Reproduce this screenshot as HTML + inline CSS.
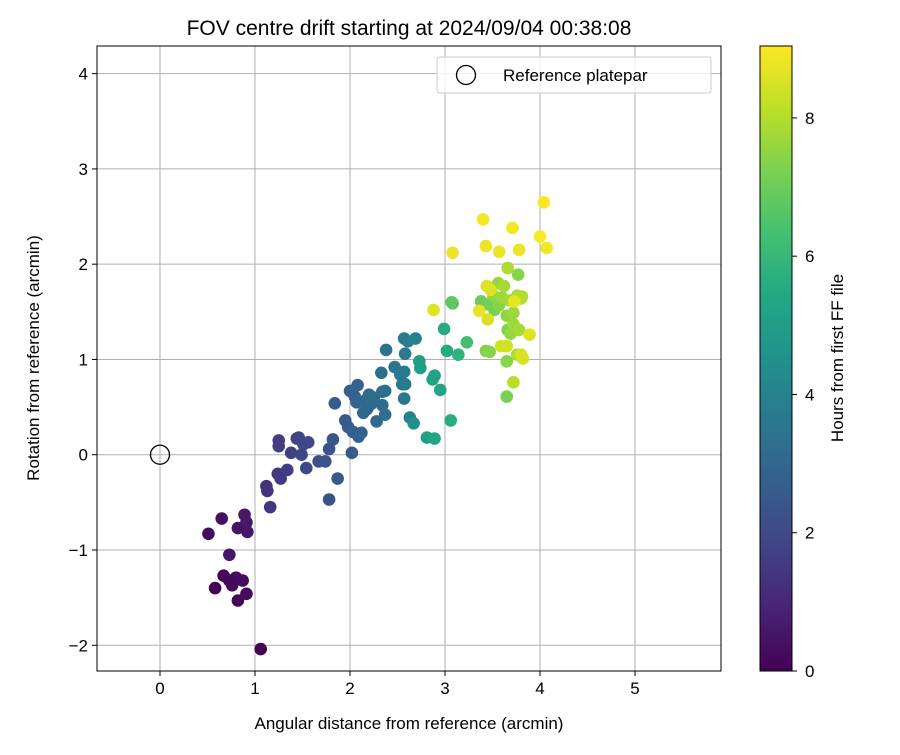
<!DOCTYPE html>
<html><head><meta charset="utf-8"><style>
body{margin:0;background:#fff;font-family:"Liberation Sans","DejaVu Sans",sans-serif;}
svg text{font-family:"Liberation Sans","DejaVu Sans",sans-serif;fill:#000;}
</style></head><body>
<svg id="c" width="900" height="750" xmlns="http://www.w3.org/2000/svg">
<defs><linearGradient id="vir" x1="0" y1="1" x2="0" y2="0">
<stop offset="0" stop-color="#440154"/><stop offset="0.1" stop-color="#482475"/><stop offset="0.2" stop-color="#414487"/><stop offset="0.3" stop-color="#355f8d"/><stop offset="0.4" stop-color="#2a788e"/><stop offset="0.5" stop-color="#21918c"/><stop offset="0.6" stop-color="#22a884"/><stop offset="0.7" stop-color="#44bf70"/><stop offset="0.8" stop-color="#7ad151"/><stop offset="0.9" stop-color="#bddf26"/><stop offset="1" stop-color="#fde725"/>
</linearGradient></defs>
<text x="409" y="35" font-size="21" text-anchor="middle">FOV centre drift starting at 2024/09/04 00:38:08</text>
<g id="grid"></g><g id="pts"></g><g id="axes"></g>
<rect x="760" y="46" width="32" height="625" fill="url(#vir)" stroke="#000" stroke-width="1"/>
<g id="cbt"></g>
<text transform="translate(843,358) rotate(-90)" font-size="17" text-anchor="middle">Hours from first FF file</text>
<text x="409" y="729" font-size="17" text-anchor="middle">Angular distance from reference (arcmin)</text>
<text transform="translate(39,358) rotate(-90)" font-size="17" text-anchor="middle">Rotation from reference (arcmin)</text>
<g>
<rect x="437" y="57" width="274" height="36" rx="3" fill="#fff" fill-opacity="0.8" stroke="#ccc"/>
<circle cx="466" cy="75" r="9.5" fill="none" stroke="#000" stroke-width="1.3"/>
<text x="503" y="81" font-size="17">Reference platepar</text>
</g>
</svg>
<script>
const xs=[0.51,0.65,0.73,0.58,0.67,0.76,0.80,0.87,0.82,0.91,0.82,0.89,0.91,0.92,1.06,0.73,
1.12,1.13,1.16,1.25,1.25,1.24,1.27,1.34,1.38,1.44,1.46,1.49,1.51,1.56,1.54,1.67,1.74,1.78,1.78,1.82,1.87,1.84,1.95,2.0,2.02,1.98,2.03,
2.05,2.08,2.07,2.09,2.12,2.14,2.16,2.18,2.20,2.22,2.25,2.28,2.33,2.34,2.34,2.37,2.38,2.37,2.47,2.53,2.55,2.57,2.58,2.57,2.58,2.57,2.61,2.63,2.67,2.69,
2.73,2.74,2.81,2.87,2.89,2.89,2.95,2.99,3.02,3.06,3.08,3.14,3.23,
3.07,3.38,3.43,3.47,3.45,3.52,3.51,3.56,3.57,3.60,3.62,3.65,3.65,3.66,3.66,3.65,3.68,3.69,3.72,3.72,3.76,3.77,3.72,3.76,3.78,3.80,3.81,
2.88,3.08,3.40,3.43,3.44,3.45,3.48,3.57,3.59,3.65,3.71,3.78,3.80,3.82,3.89,4.0,4.04,4.07,3.36,3.73];
const ys=[-0.83,-0.67,-1.05,-1.40,-1.27,-1.37,-1.29,-1.32,-1.53,-1.46,-0.77,-0.63,-0.71,-0.81,-2.04,-1.32,
-0.33,-0.38,-0.55,0.15,0.09,-0.20,-0.25,-0.16,0.02,0.17,0.18,0,0.11,0.13,-0.14,-0.07,-0.07,0.06,-0.47,0.16,-0.25,0.54,0.36,0.67,0.02,0.29,0.24,
0.61,0.73,0.55,0.19,0.23,0.44,0.57,0.48,0.63,0.53,0.60,0.35,0.86,0.66,0.52,0.42,1.1,0.67,0.92,0.84,0.74,1.22,1.06,0.59,0.74,0.87,1.19,0.39,0.33,1.22,
0.98,0.91,0.18,0.79,0.83,0.17,0.68,1.32,1.09,0.36,1.59,1.05,1.18,
1.60,1.61,1.09,1.08,1.58,1.52,1.67,1.80,1.57,1.65,1.77,0.61,1.46,1.96,1.31,0.98,1.62,1.27,1.49,1.37,1.05,1.89,0.76,1.67,1.31,1.64,1.66,
1.52,2.12,2.47,2.19,1.77,1.42,1.73,2.13,1.14,1.14,2.38,2.15,1.05,1.01,1.26,2.29,2.65,2.17,1.51,1.61];
const hours=[0.3,0.35,0.6,0.1,0.15,0.2,0.25,0.3,0.2,0.25,0.5,0.6,0.6,0.55,0.0,0.2,
1.3,1.3,1.4,1.6,1.6,1.5,1.5,1.6,1.7,1.8,1.8,1.9,1.9,2.0,2.0,2.2,2.3,2.3,2.3,2.4,2.5,2.6,2.5,2.7,2.6,2.6,2.7,
2.8,2.8,2.9,2.8,2.9,3.0,3.0,3.0,3.1,3.1,3.2,3.1,3.3,3.3,3.2,3.3,3.4,3.3,3.5,3.6,3.6,3.7,3.7,3.6,3.7,3.7,3.8,3.9,4.5,3.9,
5.0,5.0,5.1,5.2,5.2,5.3,5.3,5.5,5.5,5.6,6.5,5.8,6.3,
6.8,7.0,7.3,7.4,7.1,7.2,7.5,7.6,7.4,7.7,7.8,7.2,7.5,7.9,7.3,7.4,7.8,7.6,7.7,7.7,7.9,7.4,8.1,7.9,7.8,8.0,8.0,
8.6,8.8,8.9,8.8,8.6,8.5,8.6,8.8,8.4,8.4,8.9,8.8,8.5,8.5,8.6,9.0,9.0,8.9,8.7,8.7];
const xTicks=[0,1,2,3,4,5], yTicks=[-2,-1,0,1,2,3,4], cTicks=[0,2,4,6,8];
const X0=97,X1=721,Y0=46,Y1=671,xmin=-0.663,xmax=5.905,ymin=-2.27,ymax=4.29,hmax=9.04;
const sx=v=>X0+(v-xmin)/(xmax-xmin)*(X1-X0), sy=v=>Y1-(v-ymin)/(ymax-ymin)*(Y1-Y0), sc=v=>671-v/hmax*625;
const stops=["#440154","#482475","#414487","#355f8d","#2a788e","#21918c","#22a884","#44bf70","#7ad151","#bddf26","#fde725"];
function vir(t){t=Math.max(0,Math.min(1,t))*10;const i=Math.min(9,Math.floor(t)),f=t-i;
const a=stops[i],b=stops[i+1];const c=k=>Math.round(parseInt(a.substr(k,2),16)*(1-f)+parseInt(b.substr(k,2),16)*f);
return `rgb(${c(1)},${c(3)},${c(5)})`;}
const NS="http://www.w3.org/2000/svg";
function mk(t,a,p){const e=document.createElementNS(NS,t);for(const k in a)e.setAttribute(k,a[k]);p.appendChild(e);return e;}
const G=document.getElementById('grid'),P=document.getElementById('pts'),A=document.getElementById('axes'),C=document.getElementById('cbt');
xTicks.forEach(v=>{const x=sx(v);
const l=mk('line',{x1:x,x2:x,y1:Y0,y2:Y1,stroke:'#b0b0b0','stroke-width':1},G);


mk('line',{x1:x,x2:x,y1:Y1,y2:Y1+5,stroke:'#000'},A);
const t=mk('text',{x:x,y:Y1+23,'font-size':17,'text-anchor':'middle'},A);t.textContent=v;

});
yTicks.forEach(v=>{const y=sy(v);
const l=mk('line',{x1:X0,x2:X1,y1:y,y2:y,stroke:'#b0b0b0','stroke-width':1},G);


mk('line',{x1:X0-5,x2:X0,y1:y,y2:y,stroke:'#000'},A);
const t=mk('text',{x:X0-9,y:y+6,'font-size':17,'text-anchor':'end'},A);t.textContent=v<0?'\u2212'+(-v):v;

});
const fr=mk('rect',{x:X0,y:Y0,width:X1-X0,height:Y1-Y0,fill:'none',stroke:'#000','stroke-width':1},A);


const ref=mk('circle',{cx:sx(0),cy:sy(0),r:9.5,fill:'none',stroke:'#000','stroke-width':1.3},P);


xs.forEach((x,i)=>{const c=mk('circle',{cx:sx(x),cy:sy(ys[i]),r:6.3,fill:vir(hours[i]/hmax)},P);

});
cTicks.forEach(v=>{const y=sc(v);
mk('line',{x1:792,x2:797,y1:y,y2:y,stroke:'#000'},C);
const t=mk('text',{x:805,y:y+6,'font-size':17},C);t.textContent=v;

});
</script>
</body></html>
